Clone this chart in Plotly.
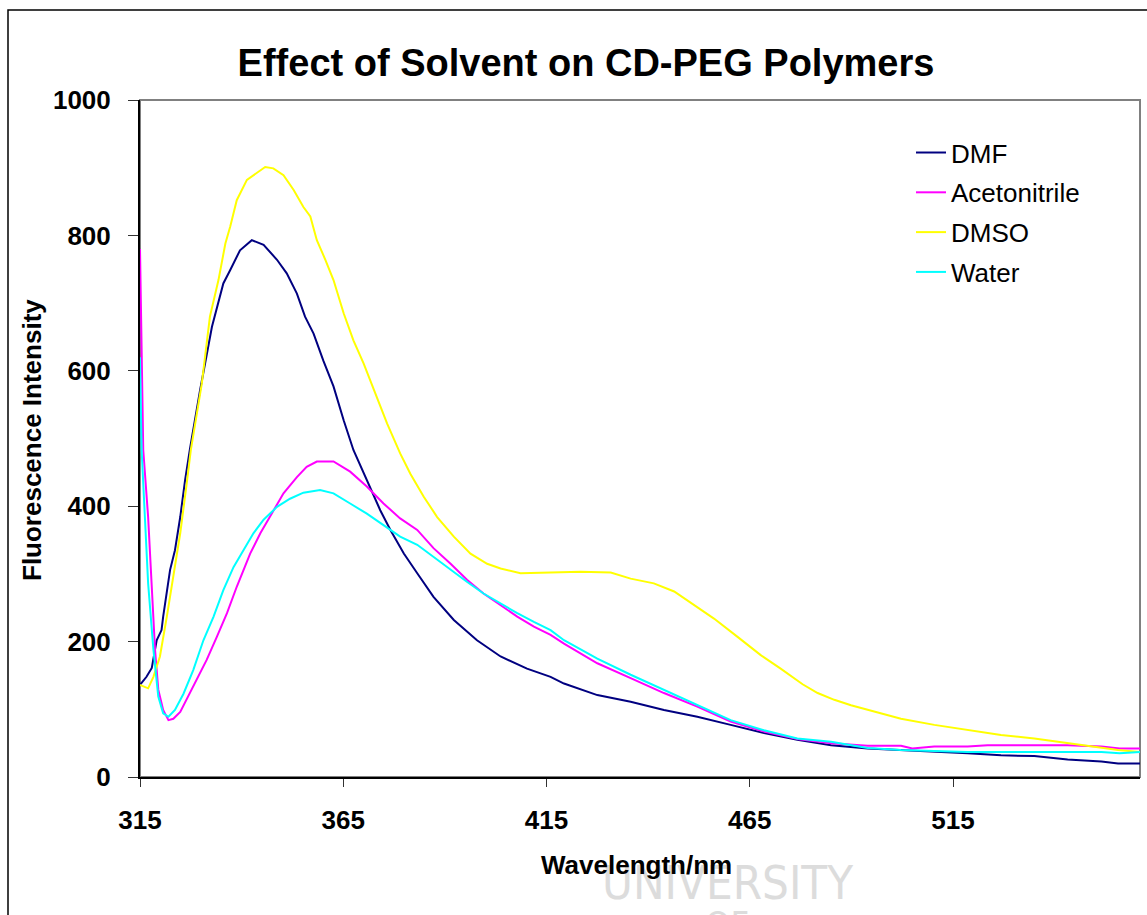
import plotly.graph_objects as go

# Emission spectra (wavelength in nm, fluorescence intensity)
wl_dmf = [315, 316.6, 317.9, 319.1, 320.3, 320.7, 322.4, 323.6, 324.9, 326.1, 327.3, 329.8,
          332.7, 335.5, 337.2, 339.6, 342.5, 345.4, 348.7, 351.1, 353.6, 355.6, 357.7, 360.1,
          362.6, 365.1, 367.5, 370.8, 374.1, 376.6, 379.9, 383.2, 387.2, 392.2, 397.9, 403.7,
          410.2, 416, 419.3, 427.5, 435.7, 443.9, 452.1, 460.3, 468.5, 476.7, 485, 494, 502.2,
          510.4, 518.6, 526.8, 535, 543.2, 551.5, 555.6, 561]
dmf = [136, 148, 161, 202, 217, 237, 306, 335, 384, 439, 485, 572,
       665, 729, 749, 778, 793, 786, 764, 744, 714, 680, 655, 615,
       577, 527, 483, 439, 394, 365, 330, 301, 266, 232, 202, 178,
       160, 148, 138, 121, 111, 99, 89, 77, 65, 55, 47, 42, 40,
       37, 35, 32, 31, 26, 23, 20, 20]

wl_acn = [315, 315.8, 317, 317.9, 318.7, 319.5, 320.7, 322, 323.2, 324.9, 326.9, 329,
          331.4, 333.9, 336.4, 338.8, 342.1, 344.6, 347, 350.3, 353.6, 356, 358.5, 362.6,
          366.7, 370.8, 374.9, 379, 383.2, 387.2, 391.4, 395.5, 399.5, 403.7, 407.8, 411.9,
          416, 419.3, 427.5, 435.7, 443.9, 452.1, 460.3, 468.5, 476.7, 485, 494, 502.2,
          505, 510.4, 518.6, 523.5, 543.2, 551.5, 556, 561]
acetonitrile = [780, 483, 384, 286, 188, 129, 99, 84, 86, 96, 119, 143,
                173, 207, 242, 281, 330, 360, 384, 419, 443, 458, 466, 466,
                451, 429, 404, 382, 365, 338, 315, 291, 271, 254, 237, 222,
                210, 197, 168, 146, 124, 104, 82, 67, 56, 50, 46, 46,
                42, 45, 45, 47, 47, 45, 42, 42]

wl_dmso = [315, 317, 318.3, 319.9, 321.6, 323.2, 324.9, 326.5, 327.5, 330.2, 332.2, 334.3,
           336, 337.2, 338.8, 341.3, 343.7, 345.8, 347.8, 350.3, 352.8, 355.2, 356.9, 358.5,
           360.6, 362.6, 365.1, 367.5, 370, 372.5, 375.8, 379, 381.5, 384.8, 388.1, 392.2,
           396.3, 400.4, 403.7, 408.6, 413, 416, 423.4, 430.8, 435.7, 441.4, 446.4, 451.3,
           456.2, 462, 467.7, 472.6, 478, 481.7, 485.8, 489.9, 494, 502.2, 510.4, 518.6,
           526.8, 535, 543.2, 549, 555.6, 561]
dmso = [136, 131, 148, 178, 237, 296, 360, 434, 483, 581, 680, 734,
        788, 813, 852, 882, 892, 901, 899, 889, 867, 842, 828, 793,
        764, 734, 685, 645, 611, 572, 522, 478, 448, 414, 384, 355,
        330, 315, 308, 301, 301, 302, 303, 302, 293, 286, 274, 254,
        234, 207, 180, 160, 137, 124, 114, 106, 99, 86, 77, 69,
        62, 57, 50, 45, 40, 37]

wl_water = [315, 315.4, 316.2, 317, 318.3, 319.5, 320.7, 322, 323.6, 325.7, 328.1, 330.6,
            333.1, 335.5, 338, 340.4, 342.9, 345.4, 348.7, 351.9, 355.2, 359.3, 362.6, 366.7,
            370.8, 374.9, 379, 383.2, 387.2, 391.4, 395.5, 399.5, 403.7, 407.8, 411.9, 416,
            419.3, 427.5, 435.7, 443.9, 452.1, 460.3, 468.5, 476.7, 485, 494, 502.2, 510.4,
            518.6, 535, 551.5, 556, 561]
water = [620, 483, 384, 286, 188, 119, 94, 89, 99, 123, 158, 202,
         237, 276, 310, 335, 360, 380, 399, 411, 420, 424, 419, 404,
         389, 372, 355, 343, 325, 306, 288, 271, 256, 242, 229, 217,
         202, 175, 151, 129, 106, 84, 69, 57, 52, 43, 40, 39,
         37, 37, 37, 35, 37]

x_ticks = [315, 365, 415, 465, 515]

FONT = "Liberation Sans, Arial, sans-serif"
MARK_FONT = "DejaVu Sans Condensed, Liberation Sans Narrow, sans-serif"

series = [
    ("DMF", wl_dmf, dmf, "#000080"),
    ("Acetonitrile", wl_acn, acetonitrile, "#FF00FF"),
    ("DMSO", wl_dmso, dmso, "#FFFF00"),
    ("Water", wl_water, water, "#00FFFF"),
]

fig = go.Figure()
for name, xs, ys, color in series:
    fig.add_trace(go.Scatter(
        x=xs, y=ys, mode="lines", name=name, legendgroup=name,
        line=dict(color=color, width=2),
    ))

fig.update_layout(
    width=1147, height=915,
    margin=dict(l=140, r=7, t=100, b=138),
    paper_bgcolor="white", plot_bgcolor="white",
    font=dict(family=FONT, color="black"),
    title=dict(
        text="Effect of Solvent on CD-PEG Polymers",
        font=dict(size=38, weight="bold", family=FONT),
        x=586 / 1147, xref="container", xanchor="center",
        y=1 - 63 / 915, yref="container", yanchor="middle",
    ),
    showlegend=True,
    legend=dict(
        x=0.771, y=0.957, xanchor="left", yanchor="top",
        bgcolor="rgba(0,0,0,0)", borderwidth=0,
        font=dict(size=26, family=FONT),
        tracegroupgap=3,
    ),
    xaxis=dict(
        range=[315, 561], tickvals=x_ticks, ticktext=[str(t) for t in x_ticks],
        ticks="outside", ticklen=8, tickwidth=1, tickcolor="#333",
        showline=True, linecolor="black", linewidth=2,
        showgrid=False, zeroline=False,
        tickfont=dict(size=26, weight="bold", family=FONT),
        ticklabelstandoff=11,
    ),
    yaxis=dict(
        range=[0, 1000], dtick=200,
        ticks="outside", ticklen=10, tickwidth=1, tickcolor="#333",
        showline=True, linecolor="black", linewidth=2,
        showgrid=False, zeroline=False,
        tickfont=dict(size=26, weight="bold", family=FONT),
        ticklabelstandoff=12,
    ),
    shapes=[
        # grey frame of the plotting area
        dict(type="rect", xref="paper", yref="paper", x0=0, x1=1, y0=0, y1=1,
             line=dict(color="#808080", width=2), layer="below"),
        # outer chart frame
        dict(type="rect", xref="paper", yref="paper",
             x0=-0.132, x1=1.05, y0=-0.35, y1=(777 - 10) / 677,
             line=dict(color="black", width=1.5), layer="below"),
    ],
    annotations=[
        dict(text="UNIVERSITY", xref="paper", yref="paper",
             x=(727 - 140) / 1000, y=(777 - 882) / 677,
             showarrow=False, xanchor="center", yanchor="middle",
             font=dict(size=47, color="#dcdcdc", family=MARK_FONT)),
        dict(text="OF", xref="paper", yref="paper",
             x=(727 - 140) / 1000, y=(777 - 924) / 677,
             showarrow=False, xanchor="center", yanchor="middle",
             font=dict(size=36, color="#dcdcdc", family=MARK_FONT)),
        dict(text="Wavelength/nm", xref="paper", yref="paper",
             x=(636 - 140) / 1000, y=(777 - 865) / 677,
             showarrow=False, xanchor="center", yanchor="middle",
             font=dict(size=26, weight="bold", family=FONT)),
        dict(text="Fluorescence Intensity", xref="paper", yref="paper",
             x=(32 - 140) / 1000, y=(777 - 440) / 677, textangle=-90,
             showarrow=False, xanchor="center", yanchor="middle",
             font=dict(size=26, weight="bold", family=FONT)),
    ],
)

fig.write_html("out.html")
